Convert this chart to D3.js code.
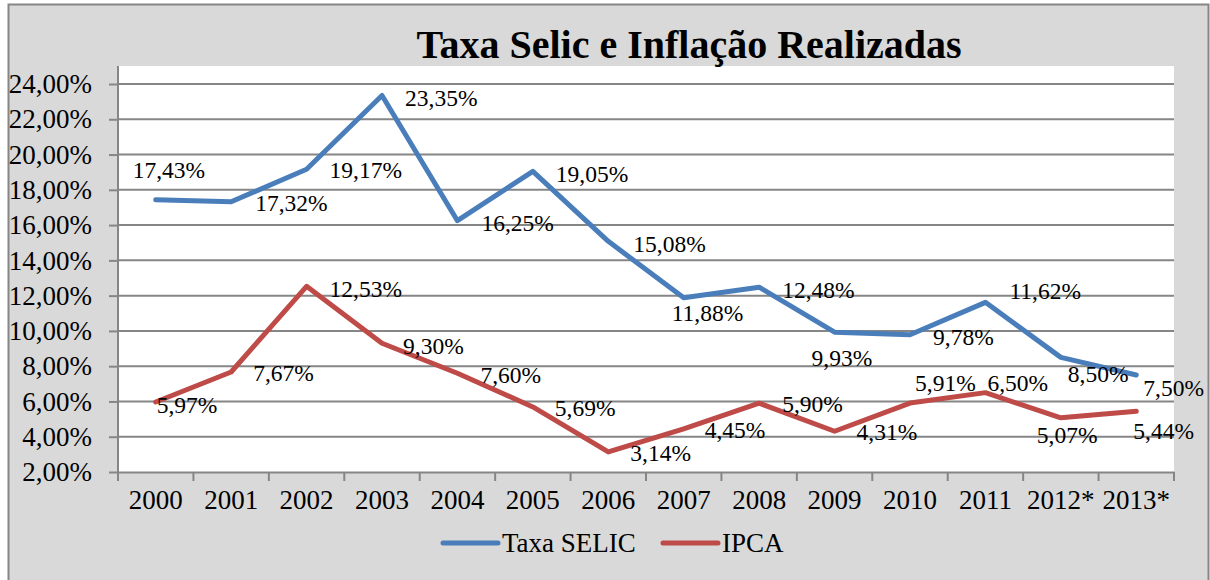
<!DOCTYPE html>
<html>
<head>
<meta charset="utf-8">
<script src="https://cdn.jsdelivr.net/npm/d3@7"></script>
<style>
  body { margin: 0; background: #fff; }
</style>
</head>
<body>
<div id="chart"></div>
<script>

var anos = ["2000", "2001", "2002", "2003", "2004", "2005", "2006", "2007", "2008", "2009", "2010", "2011", "2012*", "2013*"];
var selic = [17.43, 17.32, 19.17, 23.35, 16.25, 19.05, 15.08, 11.88, 12.48, 9.93, 9.78, 11.62, 8.50, 7.50];
var ipca = [5.97, 7.67, 12.53, 9.30, 7.60, 5.69, 3.14, 4.45, 5.90, 4.31, 5.91, 6.50, 5.07, 5.44];
var yTicks = [2, 4, 6, 8, 10, 12, 14, 16, 18, 20, 22, 24];

// where Excel put each data label, relative to its point
var selicLabelPos = [[-23, -30], [24, 1], [23, 1], [23, 2], [24, 2], [23, 2], [25, 2], [-12, 15], [23, 3], [-23, 26], [23, 2], [24, -12], [7, 16], [7, 13]];
var ipcaLabelPos = [[1, 3], [22, 1], [23, 2], [21, 3], [23, 2], [22, 1], [22, 1], [21, 1], [23, 1], [22, 1], [5, -20], [2, -10], [-24, 17], [-3, 19]];

var serif = "'Liberation Serif', 'Times New Roman', Times, serif";
var width = 1210, height = 580;
var plot = { left: 118, right: 1174, top: 66, bottom: 472 };

var svg = d3.select("#chart").append("svg")
    .attr("width", width)
    .attr("height", height)
    .style("font-family", serif);

// chart area
svg.append("rect")
    .attr("x", 8.5).attr("y", 4.5)
    .attr("width", 1200).attr("height", 600)
    .attr("fill", "#d9d9d9")
    .attr("stroke", "#868686")
    .attr("stroke-width", 2);

svg.append("rect")
    .attr("x", plot.left).attr("y", plot.top)
    .attr("width", plot.right - plot.left).attr("height", plot.bottom - plot.top)
    .attr("fill", "#fff");

var x = d3.scaleBand()
    .domain(anos)
    .range([plot.left, plot.right]);

var y = d3.scaleLinear()
    .domain([2, 24])
    .range([plot.bottom, 84]);

var fmt = function (v) { return d3.format(".2f")(v).replace(".", ",") + "%"; };

// gridlines
svg.append("g")
    .selectAll("line")
    .data(yTicks.slice(1))
    .enter().append("line")
    .attr("x1", plot.left).attr("x2", plot.right)
    .attr("y1", function (d) { return y(d); })
    .attr("y2", function (d) { return y(d); })
    .attr("stroke", "#868686")
    .attr("stroke-width", 2);

// y axis
var yAxis = svg.append("g")
    .attr("transform", "translate(" + plot.left + ",0)")
    .call(d3.axisLeft(y).tickValues(yTicks).tickSize(9).tickPadding(17).tickFormat(fmt));
yAxis.select(".domain").attr("stroke", "#868686").attr("stroke-width", 2)
    .attr("d", "M0," + plot.top + "V" + plot.bottom);
yAxis.selectAll(".tick line").attr("stroke", "#868686").attr("stroke-width", 2);
yAxis.selectAll(".tick text").style("font-family", serif).style("font-size", "27px");

// x axis
var xAxis = svg.append("g")
    .attr("transform", "translate(0," + plot.bottom + ")")
    .call(d3.axisBottom(x).tickSize(0).tickPadding(18));
xAxis.select(".domain").attr("stroke", "#868686").attr("stroke-width", 2);
xAxis.selectAll(".tick text").style("font-family", serif).style("font-size", "27px");
xAxis.append("g")
    .selectAll("line")
    .data(anos.concat([null]))
    .enter().append("line")
    .attr("x1", function (d, i) { return plot.left + i * x.step(); })
    .attr("x2", function (d, i) { return plot.left + i * x.step(); })
    .attr("y1", 0).attr("y2", 9)
    .attr("stroke", "#868686")
    .attr("stroke-width", 2);

var series = [
    { name: "Taxa SELIC", values: selic, color: "#4a7ebb", labels: selicLabelPos },
    { name: "IPCA", values: ipca, color: "#be4b48", labels: ipcaLabelPos }
];

var line = d3.line()
    .x(function (d, i) { return x(anos[i]) + x.bandwidth() / 2; })
    .y(function (d) { return y(d); });

series.forEach(function (s) {
    svg.append("path")
        .datum(s.values)
        .attr("d", line)
        .attr("fill", "none")
        .attr("stroke", s.color)
        .attr("stroke-width", 5)
        .attr("stroke-linejoin", "round")
        .attr("stroke-linecap", "round");
});

series.forEach(function (s) {
    svg.append("g")
        .selectAll("text")
        .data(s.values)
        .enter().append("text")
        .attr("x", function (d, i) { return x(anos[i]) + x.bandwidth() / 2 + s.labels[i][0]; })
        .attr("y", function (d, i) { return y(d) + s.labels[i][1]; })
        .attr("dy", "0.35em")
        .style("font-family", serif)
        .style("font-size", "23.5px")
        .text(fmt);
});

// title
svg.append("text")
    .attr("x", 689).attr("y", 58)
    .attr("text-anchor", "middle")
    .style("font-family", serif)
    .style("font-size", "40px")
    .style("font-weight", "bold")
    .text("Taxa Selic e Inflação Realizadas");

// legend
var legendPos = [443, 663];
var legend = svg.append("g")
    .selectAll("g")
    .data(series)
    .enter().append("g")
    .attr("transform", function (d, i) { return "translate(" + legendPos[i] + ",543)"; });
legend.append("line")
    .attr("x1", 0).attr("x2", 55)
    .attr("stroke", function (d) { return d.color; })
    .attr("stroke-width", 5)
    .attr("stroke-linecap", "round");
legend.append("text")
    .attr("x", 59).attr("dy", "0.35em")
    .style("font-family", serif)
    .style("font-size", "27px")
    .text(function (d) { return d.name; });

</script>
</body>
</html>
